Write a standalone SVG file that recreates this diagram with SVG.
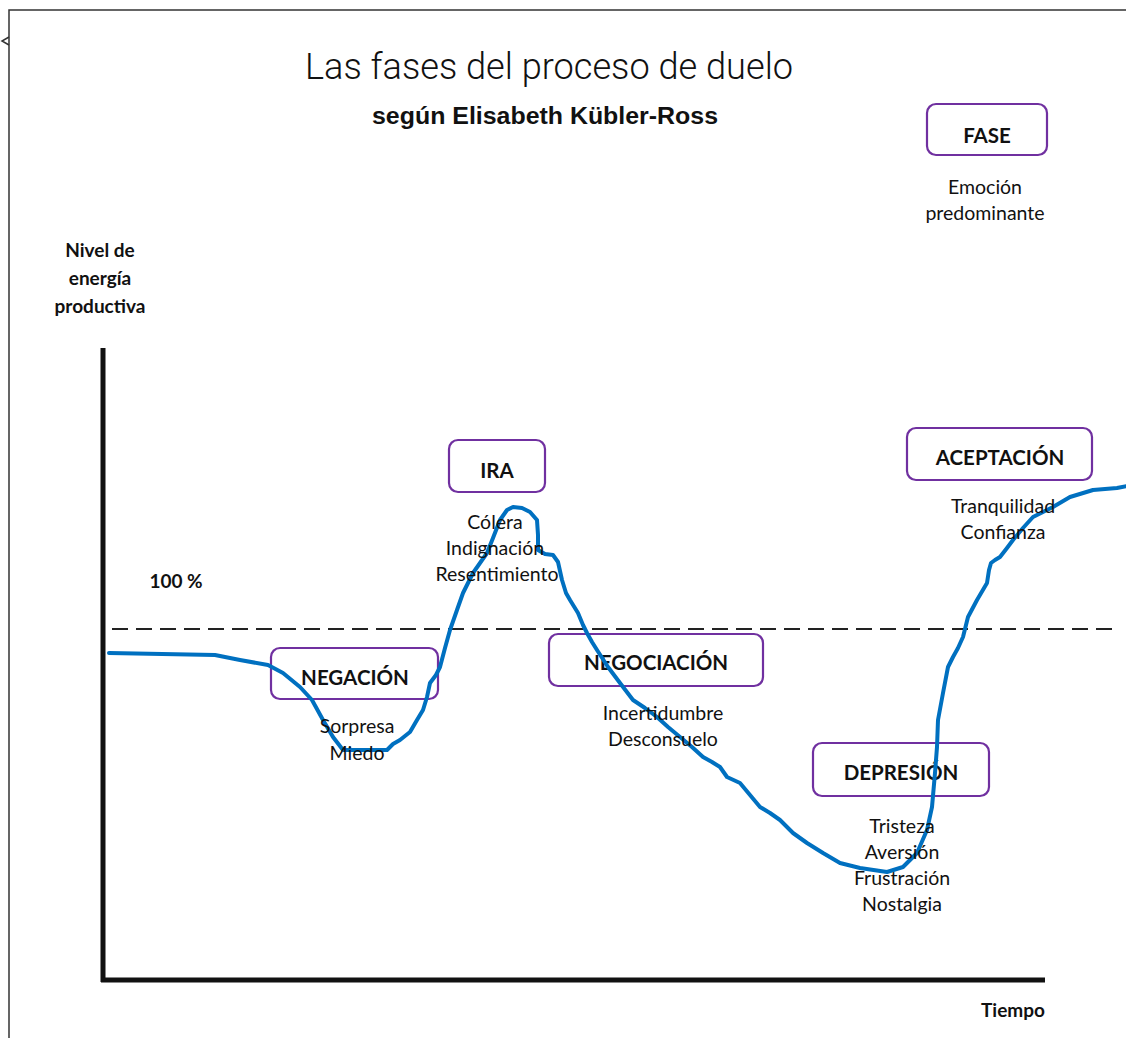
<svg xmlns="http://www.w3.org/2000/svg" width="1126" height="1038" viewBox="0 0 1126 1038">
<style>
.bx{fill:#fff;stroke:#7030A0;stroke-width:2.2}
.lb{font-family:Lato,"Liberation Sans",sans-serif;font-weight:bold;font-size:20.5px;fill:#111;text-anchor:middle}
.em{font-family:Lato,"Liberation Sans",sans-serif;font-size:19.5px;fill:#111;text-anchor:middle}
.ax{font-family:Lato,"Liberation Sans",sans-serif;font-weight:bold;font-size:19px;fill:#111;text-anchor:middle}
</style>
<rect x="0" y="0" width="1126" height="1038" fill="#fff"/>
<g id="frame" fill="none" stroke="#333" stroke-width="1.5">
<polyline points="9,1038 9,10 1126,10"/>
<polyline points="9,37 2,41 9,45"/>
</g>
<g id="title">
<text x="549" y="79" font-family="Roboto,'Liberation Sans',sans-serif" font-weight="300" font-size="36" fill="#111" text-anchor="middle" textLength="488" lengthAdjust="spacingAndGlyphs">Las fases del proceso de duelo</text>
<text x="545" y="124" font-family="'Liberation Sans',Arial,sans-serif" font-weight="bold" font-size="23" fill="#111" text-anchor="middle" textLength="346" lengthAdjust="spacingAndGlyphs">según Elisabeth Kübler-Ross</text>
</g>
<g id="axes">
<line x1="103" y1="348" x2="103" y2="982" stroke="#111" stroke-width="5"/>
<line x1="101" y1="980" x2="1045" y2="980" stroke="#111" stroke-width="5"/>
<line x1="112" y1="629" x2="1112" y2="629" stroke="#222" stroke-width="2" stroke-dasharray="16,8"/>
<text class="ax" x="100" y="257">Nivel de</text>
<text class="ax" x="100" y="285">energía</text>
<text class="ax" x="100" y="313">productiva</text>
<text class="ax" x="176" y="588">100 %</text>
<text class="ax" x="1013" y="1017">Tiempo</text>
</g>
<g id="fase">
<rect class="bx" x="927" y="104" width="120" height="51" rx="9"/>
<text class="lb" x="987" y="143">FASE</text>
<text class="em" x="985" y="194">Emoción</text>
<text class="em" x="985" y="220">predominante</text>
</g>
<g id="ira">
<rect class="bx" x="449" y="440" width="96" height="52" rx="9"/>
<text class="lb" x="497" y="478">IRA</text>
</g>
<g id="negacion">
<rect class="bx" x="271" y="648" width="167" height="51" rx="9"/>
<text class="lb" x="355" y="685">NEGACIÓN</text>
</g>
<g id="negociacion">
<rect class="bx" x="549" y="634" width="214" height="52" rx="9"/>
<text class="lb" x="656" y="670">NEGOCIACIÓN</text>
</g>
<g id="depresion">
<rect class="bx" x="813" y="743" width="176" height="53" rx="9"/>
<text class="lb" x="901" y="780">DEPRESIÓN</text>
</g>
<g id="aceptacion">
<rect class="bx" x="907" y="428" width="185" height="52" rx="9"/>
<text class="lb" x="1000" y="465">ACEPTACIÓN</text>
</g>
<g id="connectors">
<polyline fill="none" stroke="#0070C0" stroke-width="4" stroke-linejoin="round" stroke-linecap="round" points="109,653 215,655 240,660 268,665 283,673 300,687 312,700 323,720 333,737 343,750 370,750 387,750 393,744 400,740 410,732 417,720 423,710 427,697 430,683 436,675 440,667 445,648 450,630 457,610 463,593 467,585 473,573 480,563 487,553 493,538 500,520 507,510 513,507 522,508 530,512 537,520 538,535 538,550 545,554 553,555 558,562 562,580 566,593 570,600 578,613 583,625 587,633 592,642 597,650 608,667 620,683 633,700 645,708 657,717 668,727 680,737 692,747 703,757 712,762 720,767 727,777 740,783 750,795 760,807 770,813 780,820 793,833 807,843 823,853 840,863 860,868 887,872 903,867 917,853 927,830 932,807 935,773 937,747 938,720 943,693 948,667 953,657 958,648 963,637 968,617 977,600 987,583 989,570 991,563 995,560 1000,557 1007,548 1013,540 1023,528 1033,517 1043,512 1053,507 1070,497 1093,490 1117,488 1127,486"/>
</g>
<g id="emotions">
<text class="em" x="495" y="529">Cólera</text>
<text class="em" x="495" y="555">Indignación</text>
<text class="em" x="497" y="581">Resentimiento</text>
<text class="em" x="357" y="733">Sorpresa</text>
<text class="em" x="357" y="760">Miedo</text>
<text class="em" x="663" y="720">Incertidumbre</text>
<text class="em" x="663" y="746">Desconsuelo</text>
<text class="em" x="902" y="833">Tristeza</text>
<text class="em" x="902" y="859">Aversión</text>
<text class="em" x="902" y="885">Frustración</text>
<text class="em" x="902" y="911">Nostalgia</text>
<text class="em" x="1003" y="513">Tranquilidad</text>
<text class="em" x="1003" y="539">Confianza</text>
</g>
</svg>
